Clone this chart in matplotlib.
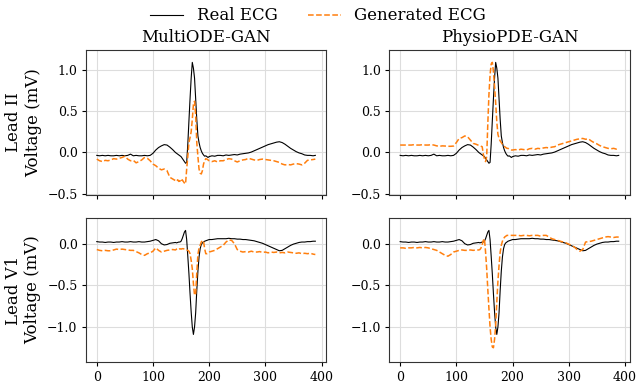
import numpy as np
import matplotlib
matplotlib.use("Agg")
from matplotlib import pyplot as plt

# sample positions: coarse, fine around the QRS complex, coarse, end
samples = np.concatenate([np.arange(0, 136, 5), np.arange(140, 201, 2), np.arange(205, 386, 5), [389]])

real_ii = [-0.035, -0.04, -0.035, -0.04, -0.035, -0.04, -0.04, -0.035, -0.04, -0.035,
           -0.04, -0.035, -0.02, -0.04, -0.035, -0.04, -0.04, -0.035, -0.04, -0.035,
           -0.01, 0.03, 0.06, 0.08, 0.095, 0.09, 0.065, 0.035,
           0.0, -0.01, -0.02, -0.03, -0.04, -0.05, -0.07, -0.09, -0.11, -0.13,
           -0.12, 0.1, 0.38, 0.65, 0.9, 1.09, 1.02, 0.9, 0.65, 0.4,
           0.2, 0.12, 0.06, 0.02, -0.01, -0.03, -0.045, -0.04, -0.05, -0.06, -0.05,
           -0.04, -0.045, -0.035, -0.035, -0.04, -0.03, -0.035, -0.03, -0.025, -0.03,
           -0.02, -0.015, -0.01, -0.005, 0.005, 0.02, 0.035, 0.05, 0.065, 0.08,
           0.095, 0.105, 0.115, 0.125, 0.13, 0.12, 0.1, 0.075, 0.05, 0.03,
           0.01, -0.005, -0.015, -0.03, -0.035, -0.035, -0.04, -0.035]

multi_ii = [-0.08, -0.1, -0.11, -0.095, -0.1, -0.09, -0.075, -0.08, -0.07, -0.06,
            -0.045, -0.08, -0.1, -0.095, -0.125, -0.11, -0.09, -0.06, -0.07, -0.1,
            -0.14, -0.16, -0.19, -0.21, -0.2, -0.22, -0.3, -0.32,
            -0.34, -0.35, -0.33, -0.35, -0.34, -0.36, -0.33, -0.35, -0.37, -0.38,
            -0.2, -0.05, 0.12, 0.18, 0.25, 0.4, 0.58, 0.62, 0.45, 0.12,
            -0.05, -0.2, -0.25, -0.26, -0.22, -0.14, -0.1, -0.075, -0.08, -0.09, -0.1,
            -0.11, -0.1, -0.115, -0.1, -0.1, -0.085, -0.075, -0.08, -0.1, -0.115,
            -0.1, -0.09, -0.085, -0.07, -0.08, -0.09, -0.095, -0.085, -0.08, -0.085,
            -0.09, -0.095, -0.1, -0.11, -0.12, -0.14, -0.15, -0.145, -0.15, -0.14,
            -0.135, -0.14, -0.15, -0.13, -0.095, -0.09, -0.085, -0.08]

physio_ii = [0.09, 0.09, 0.09, 0.09, 0.09, 0.095, 0.09, 0.09, 0.095, 0.09,
             0.09, 0.095, 0.09, 0.08, 0.075, 0.08, 0.078, 0.075, 0.075, 0.078,
             0.12, 0.17, 0.18, 0.2, 0.19, 0.15, 0.11, 0.1,
             0.085, 0.08, 0.075, 0.07, -0.02, -0.08, -0.11, -0.05, 0.35, 0.7,
             0.94, 1.07, 1.09, 0.98, 0.8, 0.6, 0.37, 0.22, 0.17, 0.14,
             0.12, 0.1, 0.09, 0.07, 0.06, 0.05, 0.05, 0.04, 0.035, 0.03, 0.03,
             0.035, 0.03, 0.04, 0.035, 0.03, 0.045, 0.05, 0.04, 0.05, 0.045,
             0.055, 0.06, 0.055, 0.065, 0.07, 0.09, 0.1, 0.11, 0.12, 0.13,
             0.14, 0.15, 0.16, 0.165, 0.17, 0.16, 0.165, 0.14, 0.12, 0.105,
             0.085, 0.07, 0.06, 0.05, 0.045, 0.05, 0.04, 0.04]

real_v1 = [0.025, 0.02, 0.02, 0.015, 0.02, 0.02, 0.015, 0.02, 0.02, 0.025,
           0.02, 0.02, 0.025, 0.02, 0.02, 0.025, 0.02, 0.02, 0.025, 0.03,
           0.04, 0.05, 0.035, 0.0, -0.015, -0.01, 0.005, 0.01,
           0.015, 0.01, 0.015, 0.02, 0.02, 0.03, 0.06, 0.1, 0.14, 0.16,
           0.05, -0.15, -0.36, -0.6, -0.82, -1.0, -1.09, -1.0, -0.83, -0.56,
           -0.33, -0.16, -0.06, -0.01, 0.01, 0.02, 0.03, 0.035, 0.04, 0.045, 0.05,
           0.05, 0.055, 0.06, 0.06, 0.06, 0.06, 0.065, 0.06, 0.06, 0.055,
           0.055, 0.05, 0.05, 0.045, 0.04, 0.035, 0.025, 0.015, 0.005, -0.01,
           -0.025, -0.04, -0.055, -0.07, -0.085, -0.08, -0.06, -0.04, -0.02, -0.005,
           0.005, 0.015, 0.02, 0.02, 0.025, 0.025, 0.03, 0.03]

multi_v1 = [-0.07, -0.08, -0.085, -0.08, -0.085, -0.085, -0.075, -0.065, -0.07, -0.065,
            -0.07, -0.075, -0.08, -0.08, -0.095, -0.11, -0.13, -0.14, -0.12, -0.11,
            -0.09, -0.05, -0.08, -0.1, -0.09, -0.08, -0.075, -0.07,
            -0.075, -0.065, -0.06, -0.07, -0.06, -0.065, -0.06, -0.06, -0.065, -0.07,
            -0.075, -0.08, -0.09, -0.12, -0.2, -0.3, -0.48, -0.62, -0.6, -0.35,
            -0.13, -0.05, -0.02, 0.02, 0.04, 0.03, -0.06, -0.12, -0.12, -0.11, -0.1,
            -0.09, -0.08, -0.06, -0.04, -0.02, 0.02, 0.045, 0.04, 0.0, -0.07,
            -0.09, -0.1, -0.095, -0.1, -0.09, -0.1, -0.1, -0.095, -0.105, -0.1,
            -0.11, -0.1, -0.105, -0.1, -0.11, -0.105, -0.11, -0.1, -0.105, -0.11,
            -0.115, -0.11, -0.12, -0.115, -0.12, -0.115, -0.125, -0.13]

physio_v1 = [-0.05, -0.05, -0.055, -0.05, -0.05, -0.045, -0.05, -0.045, -0.05, -0.045,
             -0.05, -0.06, -0.07, -0.08, -0.1, -0.12, -0.14, -0.15, -0.13, -0.1,
             -0.09, -0.08, -0.075, -0.08, -0.08, -0.075, -0.08, -0.075,
             -0.075, -0.07, -0.05, -0.01, 0.04, 0.06, -0.1, -0.3, -0.55, -0.78,
             -1.0, -1.15, -1.24, -1.25, -1.15, -0.98, -0.7, -0.45, -0.26, -0.1,
             -0.02, 0.03, 0.06, 0.08, 0.09, 0.1, 0.1, 0.1, 0.1, 0.1, 0.1,
             0.1, 0.1, 0.095, 0.1, 0.1, 0.095, 0.1, 0.1, 0.1, 0.09,
             0.1, 0.1, 0.08, 0.06, 0.05, 0.04, 0.03, 0.02, 0.01, -0.005,
             -0.02, -0.04, -0.07, -0.09, -0.07, 0.02, 0.025, 0.03, 0.04, 0.05,
             0.06, 0.07, 0.08, 0.085, 0.08, 0.075, 0.08, 0.08]

models = ["MultiODE-GAN", "PhysioPDE-GAN"]
leads = ["Lead II", "Lead V1"]
real = [real_ii, real_v1]
generated = [[multi_ii, physio_ii], [multi_v1, physio_v1]]
ylims = [(-0.51, 1.24), (-1.425, 0.313)]

plt.rcParams["font.family"] = "DejaVu Serif"

fig, axes = plt.subplots(2, 2, figsize=(6.36, 3.83), dpi=100, sharex=True)
fig.subplots_adjust(left=0.135, right=0.99, top=0.8695, bottom=0.054, wspace=0.262, hspace=0.159)

for r in range(2):
    for c in range(2):
        ax = axes[r, c]
        ax.plot(samples, real[r], color="black", lw=0.8, label="Real ECG")
        ax.plot(samples, generated[r][c], color="#ff7f0e", lw=1.1, ls="--", label="Generated ECG")
        ax.set_ylim(*ylims[r])
        ax.grid(True, color="#dddddd", lw=0.8)
        ax.tick_params(labelsize=9, length=3, pad=3)
        for s in ax.spines.values():
            s.set_color("#333333")
        if r == 0:
            ax.set_title(models[c], fontsize=12)
        if c == 0:
            ax.set_ylabel(leads[r] + "\nVoltage (mV)", fontsize=12)

axes[1, 0].set_xticks([0, 100, 200, 300, 400])

handles, labels = axes[0, 0].get_legend_handles_labels()
fig.legend(handles, labels, loc="upper center", ncol=2, frameon=False, fontsize=12,
           bbox_to_anchor=(0.5, 1.02), columnspacing=1.8)

fig.savefig("out.png", dpi=100)
